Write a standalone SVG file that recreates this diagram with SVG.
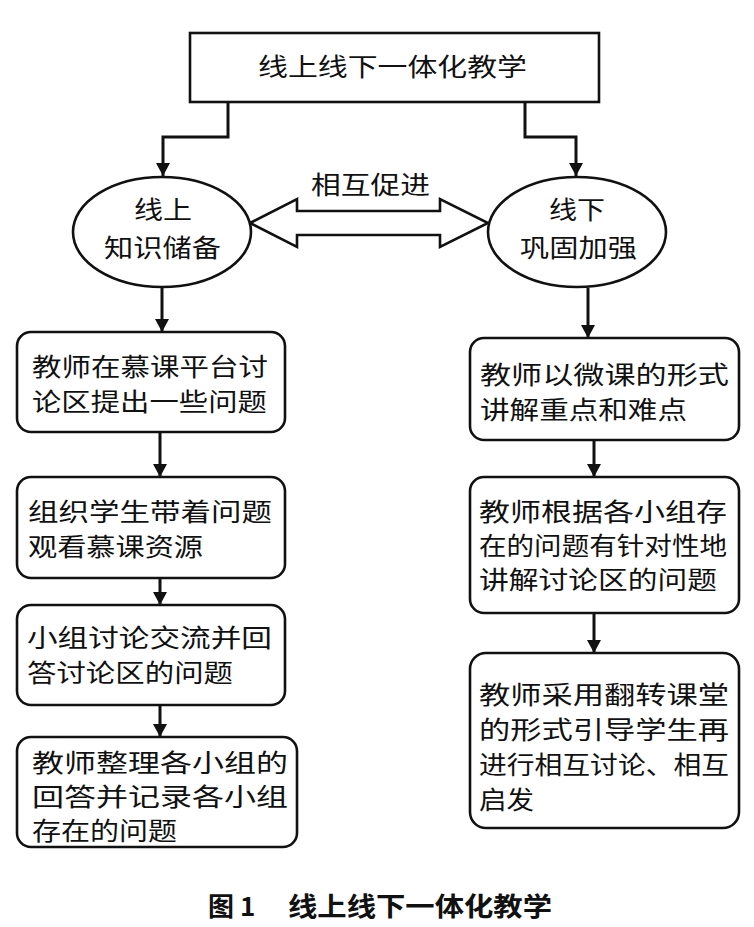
<svg xmlns="http://www.w3.org/2000/svg" width="754" height="927" viewBox="0 0 754 927">
<style>
.box{fill:#fff;stroke:#111;stroke-width:2.6}
.t{font-family:"Noto Sans CJK SC","Noto Sans",sans-serif;font-size:25px;fill:#111}
.cap{font-family:"Noto Sans CJK SC","Noto Sans",sans-serif;font-size:26px;font-weight:bold;fill:#111}
.con{fill:none;stroke:#111;stroke-width:3}
</style>
<defs>
<marker id="ah" markerUnits="userSpaceOnUse" markerWidth="14" markerHeight="14" refX="13" refY="7" orient="auto">
<path d="M0,0 L13,7 L0,14 Z" fill="#111"/>
</marker>
</defs>
<rect width="754" height="927" fill="#fff"/>
<g id="connectors">
<path class="con" d="M228,102 V137 H163 V176" marker-end="url(#ah)"/>
<path class="con" d="M525,102 V137 H576 V176" marker-end="url(#ah)"/>
<path class="con" d="M162,288 V332" marker-end="url(#ah)"/>
<path class="con" d="M160,432 V477" marker-end="url(#ah)"/>
<path class="con" d="M160,578 V605" marker-end="url(#ah)"/>
<path class="con" d="M160,705 V737" marker-end="url(#ah)"/>
<path class="con" d="M588,288 V338" marker-end="url(#ah)"/>
<path class="con" d="M594,440 V477" marker-end="url(#ah)"/>
<path class="con" d="M594,613 V653" marker-end="url(#ah)"/>
<path id="mutual" d="M250,223 L297,199 L297,211 L440,211 L440,199 L488,223 L440,247 L440,235 L297,235 L297,247 Z" fill="#fff" stroke="#111" stroke-width="2.6"/>
<text class="t" x="311" y="194" textLength="119" lengthAdjust="spacingAndGlyphs">相互促进</text>
</g>
<g id="top">
<rect class="box" x="190" y="33" width="409" height="69"/>
<text class="t" x="258" y="76" textLength="269" lengthAdjust="spacingAndGlyphs">线上线下一体化教学</text>
</g>
<g id="online">
<ellipse class="box" cx="162" cy="232" rx="89" ry="55"/>
<text class="t" x="134" y="219" textLength="58" lengthAdjust="spacingAndGlyphs">线上</text>
<text class="t" x="104" y="257" textLength="117" lengthAdjust="spacingAndGlyphs">知识储备</text>
</g>
<g id="offline">
<ellipse class="box" cx="577" cy="232" rx="89" ry="55"/>
<text class="t" x="549" y="219" textLength="56" lengthAdjust="spacingAndGlyphs">线下</text>
<text class="t" x="520" y="257" textLength="117" lengthAdjust="spacingAndGlyphs">巩固加强</text>
</g>
<g id="L1">
<rect class="box" x="17" y="332" width="268" height="100" rx="14"/>
<text class="t" x="32" y="376" textLength="236" lengthAdjust="spacingAndGlyphs">教师在慕课平台讨</text>
<text class="t" x="32" y="411" textLength="235" lengthAdjust="spacingAndGlyphs">论区提出一些问题</text>
</g>
<g id="L2">
<rect class="box" x="17" y="477" width="268" height="101" rx="14"/>
<text class="t" x="28" y="521" textLength="244" lengthAdjust="spacingAndGlyphs">组织学生带着问题</text>
<text class="t" x="28" y="556" textLength="175" lengthAdjust="spacingAndGlyphs">观看慕课资源</text>
</g>
<g id="L3">
<rect class="box" x="17" y="605" width="268" height="100" rx="14"/>
<text class="t" x="27" y="647" textLength="245" lengthAdjust="spacingAndGlyphs">小组讨论交流并回</text>
<text class="t" x="27" y="682" textLength="206" lengthAdjust="spacingAndGlyphs">答讨论区的问题</text>
</g>
<g id="L4">
<rect class="box" x="17" y="737" width="280" height="110" rx="14"/>
<text class="t" x="32" y="772" textLength="256" lengthAdjust="spacingAndGlyphs">教师整理各小组的</text>
<text class="t" x="32" y="806" textLength="256" lengthAdjust="spacingAndGlyphs">回答并记录各小组</text>
<text class="t" x="32" y="840" textLength="145" lengthAdjust="spacingAndGlyphs">存在的问题</text>
</g>
<g id="R1">
<rect class="box" x="470" y="338" width="269" height="102" rx="14"/>
<text class="t" x="480" y="384" textLength="249" lengthAdjust="spacingAndGlyphs">教师以微课的形式</text>
<text class="t" x="480" y="419" textLength="207" lengthAdjust="spacingAndGlyphs">讲解重点和难点</text>
</g>
<g id="R2">
<rect class="box" x="470" y="477" width="269" height="136" rx="14"/>
<text class="t" x="479" y="521" textLength="248" lengthAdjust="spacingAndGlyphs">教师根据各小组存</text>
<text class="t" x="479" y="555" textLength="248" lengthAdjust="spacingAndGlyphs">在的问题有针对性地</text>
<text class="t" x="479" y="589" textLength="238" lengthAdjust="spacingAndGlyphs">讲解讨论区的问题</text>
</g>
<g id="R3">
<rect class="box" x="470" y="653" width="269" height="175" rx="16"/>
<text class="t" x="479" y="704" textLength="250" lengthAdjust="spacingAndGlyphs">教师采用翻转课堂</text>
<text class="t" x="479" y="739" textLength="250" lengthAdjust="spacingAndGlyphs">的形式引导学生再</text>
<text class="t" x="479" y="774" textLength="250" lengthAdjust="spacingAndGlyphs">进行相互讨论、相互</text>
<text class="t" x="479" y="809" textLength="55" lengthAdjust="spacingAndGlyphs">启发</text>
</g>
<g id="caption">
<text class="cap" x="208" y="916">图 1</text>
<text class="cap" x="288" y="916" textLength="264" lengthAdjust="spacingAndGlyphs">线上线下一体化教学</text>
</g>
</svg>
